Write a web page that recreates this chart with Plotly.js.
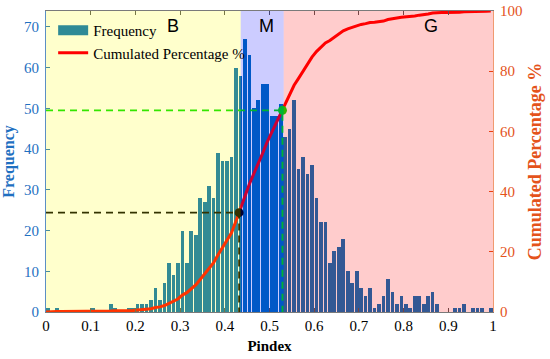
<!DOCTYPE html>
<html><head><meta charset="utf-8">
<script src="https://cdn.plot.ly/plotly-3.0.1.min.js"></script>
<style>html,body{margin:0;padding:0;background:#fff}#chart{width:550px;height:359px}</style>
</head><body><div id="chart"></div>
<script>
// ---- data ----
const binWidth = 0.01;
const frequency = [
  1,0,1,0,0,0,0,0,0,0,
  1,0,0,0,2,1,0,0,1,1,
  2,2,2,3,6,3,7,12,9,12,
  20,12,20,19,28,27,31,28,39,37,
  37,38,60,58,67,63,50,52,56,56,
  48,48,51,43,45,52,35,38,34,36,
  28,22,22,12,15,16,18,10,7,10,
  6,4,6,1,2,4,8,5,2,4,
  2,1,4,4,2,4,5,2,0,0,
  0,1,1,2,0,1,1,1,0,1
];
const regionNames = ['B','M','G'];
const regionEdges = [0, 0.4356, 0.5318, 1];
const regionLabelX = [0.284, 0.494, 0.861];
const regionColors = ['#ffff00','#0000ff','#ff0000'];
const refX = [0.432, 0.529];
const refPct = [33, 67];
const refColors = ['#000000','#00e000'];
const xTickVals = [0,0.1,0.2,0.3,0.4,0.5,0.6,0.7,0.8,0.9,1];
const xTickText = ['0','0.1','0.2','0.3','0.4','0.5','0.6','0.7','0.8','0.9','1'];
const freqTicks = [0,10,20,30,40,50,60,70];
const pctTicks = [0,20,40,60,80,100];

// ---- derived ----
const binCenters = frequency.map((_, i) => (i + 0.5) * binWidth);
const total = frequency.reduce((a, b) => a + b, 0);
let run = 0;
const cumPct = frequency.map(v => { run += v; return 100 * run / total; });

const serif = 'Liberation Serif, Times New Roman, serif';
const blue = '#1f70c1';
const orange = '#e4531b';

const traces = [
  {type:'bar', x: binCenters, y: frequency, width: binWidth*0.82,
   marker:{color:'#006eb9', line:{width:0}}, showlegend:false, hoverinfo:'skip'},
  // legend proxy for the histogram
  {type:'scatter', mode:'lines', x:[null], y:[null], name:'Frequency',
   line:{color:'#2f8a96', width:13}},
  {type:'scatter', mode:'lines', x:[0].concat(binCenters), y:[0].concat(cumPct), yaxis:'y2',
   name:'Cumulated Percentage %', line:{color:'#ff0000', width:3}},
];
refX.forEach((rx, k) => {
  traces.push({type:'scatter', mode:'lines', x:[0, rx, rx], y:[refPct[k], refPct[k], 0], yaxis:'y2',
    showlegend:false, line:{color:refColors[k], width:1.8, dash:'7px,5px'}, hoverinfo:'skip'});
});
traces.push({type:'scatter', mode:'markers', x: refX, y: refPct, yaxis:'y2', showlegend:false,
  marker:{color: refColors, size:9}, hoverinfo:'skip'});

const shapes = regionNames.map((n, k) => ({
  type:'rect', xref:'x', yref:'paper', x0: regionEdges[k], x1: regionEdges[k+1], y0:0, y1:1,
  fillcolor: regionColors[k], opacity:0.2, line:{width:0}, layer:'above'
}));
const annotations = regionNames.map((n, k) => ({
  xref:'x', yref:'paper', x: regionLabelX[k], y: 0.95, yanchor:'middle', xanchor:'center',
  text: n, showarrow:false, borderpad:0,
  font:{family:'Liberation Sans, Arial, sans-serif', size:18, color:'#000'}
}));

const layout = {
  width:550, height:359,
  margin:{l:46, r:57, t:11, b:47, pad:0},
  paper_bgcolor:'#ffffff', plot_bgcolor:'#ffffff',
  bargap:0,
  showlegend:true,
  legend:{x:0.016, y:0.99, xanchor:'left', yanchor:'top', bgcolor:'rgba(0,0,0,0)',
    borderwidth:0, font:{family:serif, size:15, color:'#000'}, tracegroupgap:0, itemwidth:30},
  xaxis:{range:[0,1], tickvals:xTickVals, ticktext:xTickText, ticks:'inside', ticklen:4,
    tickcolor:'#555', showline:true, linecolor:'#7a7a7a', linewidth:1, mirror:'ticks',
    showgrid:false, zeroline:false, tickfont:{family:serif, size:15, color:'#000'},
    title:{text:'Pindex', font:{family:serif, size:15, color:'#000', weight:'bold'}, standoff:7}},
  yaxis:{range:[0,73.9], tickvals:freqTicks, ticks:'inside', ticklen:4, tickcolor:blue,
    showline:true, linecolor:'#5b8fc4', linewidth:1, showgrid:false, zeroline:false,
    tickfont:{family:serif, size:15, color:blue}, ticklabelstandoff:3,
    title:{text:'Frequency', font:{family:serif, size:16, color:blue, weight:'bold'}, standoff:6}},
  yaxis2:{range:[0,100], tickvals:pctTicks, overlaying:'y', side:'right', ticks:'inside', ticklen:4,
    tickcolor:orange, showline:true, linecolor:'#f09a70', linewidth:1, showgrid:false, zeroline:false,
    tickfont:{family:serif, size:15, color:orange}, ticklabelstandoff:3,
    title:{text:'Cumulated Percentage %', font:{family:serif, size:18, color:orange, weight:'bold'}, standoff:6}},
  shapes: shapes,
  annotations: annotations
};
Plotly.newPlot('chart', traces, layout, {displayModeBar:false, staticPlot:true});
</script>
</body></html>
